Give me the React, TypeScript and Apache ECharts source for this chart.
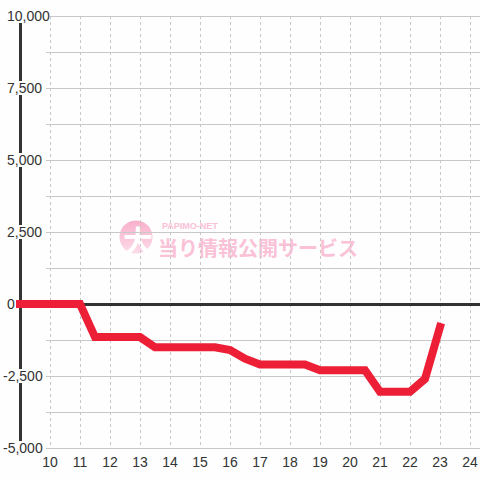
import React, { useEffect, useRef } from "react";
import * as echarts from "echarts";

const hours = [9, 9.5, 10, 10.5, 11, 11.5, 12, 12.5, 13, 13.5, 14, 14.5, 15, 15.5, 16, 16.5, 17, 17.5, 18, 18.5, 19, 19.5, 20, 20.5, 21, 21.5, 22, 22.5, 23];
const values = [0, 0, 0, 0, 0, -1150, -1150, -1150, -1150, -1500, -1500, -1500, -1500, -1500, -1600, -1900, -2100, -2100, -2100, -2100, -2300, -2300, -2300, -2300, -3050, -3050, -3050, -2600, -800];
const yMin = -5000;
const yMax = 10000;
const yStep = 1250;
const yLabelStep = 2500;
const xLabelMin = 10;
const xLabelMax = 24;

const BG = "#fdfefd";
const FONT = "Liberation Sans, Arial, sans-serif";
const PINK = "#fbc1d7";

export default function App() {
  const ref = useRef<HTMLDivElement>(null);
  useEffect(() => {
    if (!ref.current) return;
    const chart = echarts.init(ref.current, null, { renderer: "svg" });
    const data = hours.map((h, i) => [h, values[i]]);
    chart.setOption({
      animation: false,
      backgroundColor: BG,
      textStyle: { fontFamily: FONT },
      grid: [
        { left: 46, right: 0, top: 16, bottom: 32, outerBoundsMode: "none" },
        { left: 50, right: -20, top: 16, bottom: 32, outerBoundsMode: "none" },
        { left: 20, right: -20, top: 16, bottom: 32, outerBoundsMode: "none" },
      ],
      xAxis: [
        { gridIndex: 0, type: "value", min: 0, max: 1, show: false },
        {
          gridIndex: 1,
          type: "value",
          min: xLabelMin,
          max: 25,
          interval: 1,
          axisLine: { show: false },
          axisTick: { show: false },
          splitLine: { show: true, showMaxLine: false, lineStyle: { color: "#c8c8c8", width: 1, type: [3, 3] } },
          axisLabel: {
            fontSize: 14,
            color: "#333",
            margin: 7,
            fontFamily: FONT,
            showMaxLabel: false,
            formatter: (v: number) => (v <= xLabelMax ? String(v) : ""),
          },
        },
        {
          gridIndex: 2,
          type: "value",
          min: 9,
          max: 25,
          axisLine: { show: true, onZero: true, lineStyle: { color: "#333", width: 3 } },
          axisTick: { show: false },
          axisLabel: { show: false },
          splitLine: { show: false },
        },
      ],
      yAxis: [
        {
          gridIndex: 0,
          type: "value",
          min: yMin,
          max: yMax,
          interval: yStep,
          axisLine: { show: false },
          axisTick: { show: false },
          axisLabel: { show: false },
          splitLine: { show: true, lineStyle: { color: "#c8c8c8", width: 1 } },
        },
        { gridIndex: 1, type: "value", min: yMin, max: yMax, show: false },
        {
          gridIndex: 2,
          type: "value",
          min: yMin,
          max: yMax,
          interval: yStep,
          axisLine: { show: true, onZero: false, lineStyle: { color: "#333", width: 3 } },
          axisTick: { show: false },
          splitLine: { show: false },
          axisLabel: {
            align: "left",
            margin: 17,
            fontSize: 14,
            color: "#333",
            fontFamily: FONT,
            formatter: (v: number) => {
              if (v % yLabelStep !== 0) return "";
              const s = v.toLocaleString("en-US");
              return v < 0 ? `{n|${s}}` : `{p|${s}}`;
            },
            rich: {
              n: { fontSize: 14, color: "#333", fontFamily: FONT, backgroundColor: BG, lineHeight: 15, padding: [0, 0, 0, 0] },
              p: { fontSize: 14, color: "#333", fontFamily: FONT, backgroundColor: BG, lineHeight: 15, padding: [0, 0, 0, 4] },
            },
          },
        },
      ],
      graphic: [
        {
          type: "circle",
          z: -10,
          shape: { cx: 136, cy: 237, r: 16.5 },
          style: {
            fill: new echarts.graphic.LinearGradient(0, 0, 0, 1, [
              { offset: 0, color: "#f8b0cb" },
              { offset: 1, color: "#fcdce8" },
            ]),
          },
        },
        {
          type: "text",
          z: -9,
          x: 138,
          y: 239,
          style: {
            text: "大",
            fill: "#ffffff",
            fontSize: 30,
            fontWeight: "bold",
            fontFamily: "Noto Sans CJK JP",
            align: "center",
            verticalAlign: "middle",
          },
        },
        {
          type: "text",
          z: -9,
          x: 162,
          y: 226,
          style: {
            text: "PAPIMO-NET",
            fill: PINK,
            fontSize: 9,
            fontWeight: "bold",
            fontFamily: FONT,
            verticalAlign: "middle",
          },
        },
        {
          type: "text",
          z: -9,
          x: 158,
          y: 247,
          style: {
            text: "当り情報公開サービス",
            fill: PINK,
            fontSize: 20,
            fontWeight: "bold",
            fontFamily: "Noto Sans CJK JP",
            verticalAlign: "middle",
          },
        },
      ],
      series: [
        {
          type: "line",
          xAxisIndex: 2,
          yAxisIndex: 2,
          data,
          showSymbol: false,
          symbol: "none",
          lineStyle: { color: "#ed1f36", width: 8, cap: "square", join: "miter" },
          z: 5,
        },
      ],
    });
    return () => chart.dispose();
  }, []);
  return (
    <div
      ref={ref}
      style={{ position: "fixed", left: 0, top: 0, width: 480, height: 480 }}
    />
  );
}
